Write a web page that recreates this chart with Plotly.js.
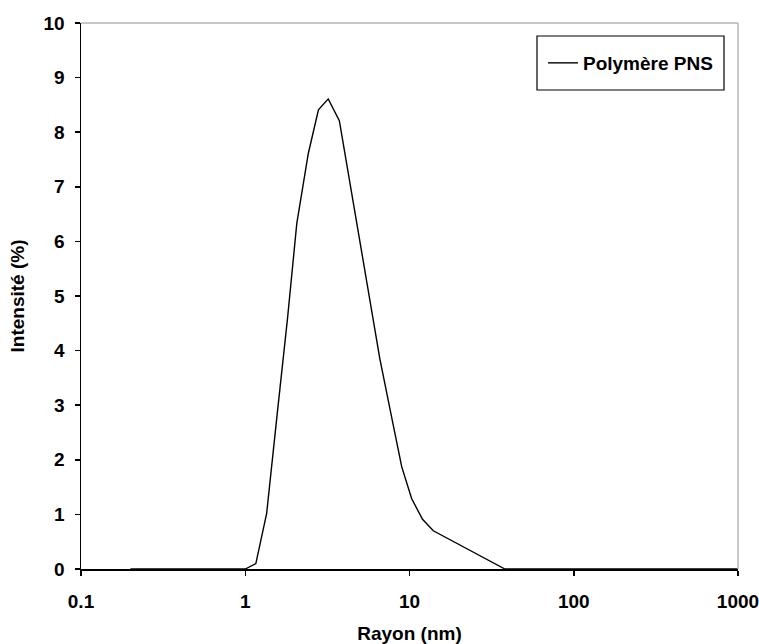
<!DOCTYPE html>
<html>
<head>
<meta charset="utf-8">
<script src="https://cdn.plot.ly/plotly-3.0.1.min.js"></script>
<style>html,body{margin:0;padding:0;background:#fff;}#chart{width:759px;height:644px;}</style>
</head>
<body>
<div id="chart"></div>
<script>
const seriesName = "Polymère PNS";
const rayon = [0.2, 1.0, 1.16, 1.35, 1.56, 1.81, 2.06, 2.42, 2.79, 3.2, 3.74, 4.3, 5.0, 5.8, 6.6, 7.7, 8.97, 10.3, 12.0, 13.96, 38.1, 1000];
const intensite = [0, 0, 0.1, 1.02, 2.8, 4.6, 6.33, 7.61, 8.41, 8.61, 8.21, 7.13, 6.0, 4.88, 3.85, 2.85, 1.87, 1.29, 0.91, 0.70, 0, 0];
const xTickVals = [0.1, 1, 10, 100, 1000];
const xTickText = ["0.1", "1", "10", "100", "1000"];
const yTickVals = [0,1,2,3,4,5,6,7,8,9,10];

const font = {family: "Liberation Sans, Arial, sans-serif", size: 19, color: "#000"};
const boldFont = Object.assign({}, font, {weight: "bold"});

const trace = {
  x: rayon, y: intensite, type: "scatter", mode: "lines",
  name: seriesName,
  line: {color: "#000", width: 1.4},
  showlegend: true
};

const W = 759, H = 644, L = 81, R = 21, T = 23, B = 75;
const pw = W - L - R, ph = H - T - B;
const px = v => (v - L) / pw;
const py = v => (H - B - v) / ph;

const layout = {
  width: W, height: H,
  margin: {l: L, r: R, t: T, b: B, pad: 0},
  paper_bgcolor: "#fff", plot_bgcolor: "#fff",
  font: boldFont,
  xaxis: {
    type: "log", range: [-1, 3],
    tickvals: xTickVals, ticktext: xTickText,
    ticks: "outside", ticklen: 5, tickwidth: 1.5, tickcolor: "#000",
    showline: true, linecolor: "#000", linewidth: 1.5,
    showgrid: false, zeroline: false,
    ticklabelstandoff: 10,
    ticklabeloverflow: "allow",
    tickfont: boldFont,
    title: {text: "<b>Rayon (nm)</b>", font: boldFont, standoff: 18}
  },
  yaxis: {
    range: [0, 10], tickvals: yTickVals,
    ticks: "outside", ticklen: 5, tickwidth: 1.5, tickcolor: "#000",
    showline: true, linecolor: "#000", linewidth: 1.5,
    showgrid: false, zeroline: false,
    ticklabelstandoff: 6,
    ticklabeloverflow: "allow",
    tickfont: boldFont,
    title: {text: "<b>Intensité (%)</b>", font: boldFont, standoff: 14}
  },
  showlegend: true,
  legend: {
    x: px(543), y: py(63), xanchor: "left", yanchor: "middle",
    bgcolor: "rgba(0,0,0,0)", borderwidth: 0,
    font: boldFont
  },
  shapes: [
    {type: "line", xref: "paper", yref: "paper", x0: 0, x1: 1, y0: 1, y1: 1, line: {color: "#b4b4b4", width: 1.5}},
    {type: "line", xref: "paper", yref: "paper", x0: 1, x1: 1, y0: 0, y1: 1, line: {color: "#b4b4b4", width: 1.5}},
    {type: "rect", xref: "paper", yref: "paper", x0: px(537), x1: px(724), y0: py(90), y1: py(36), line: {color: "#000", width: 1.2}, fillcolor: "rgba(0,0,0,0)"}
  ]
};

Plotly.newPlot("chart", [trace], layout, {displayModeBar: false, staticPlot: true});
</script>
</body>
</html>
